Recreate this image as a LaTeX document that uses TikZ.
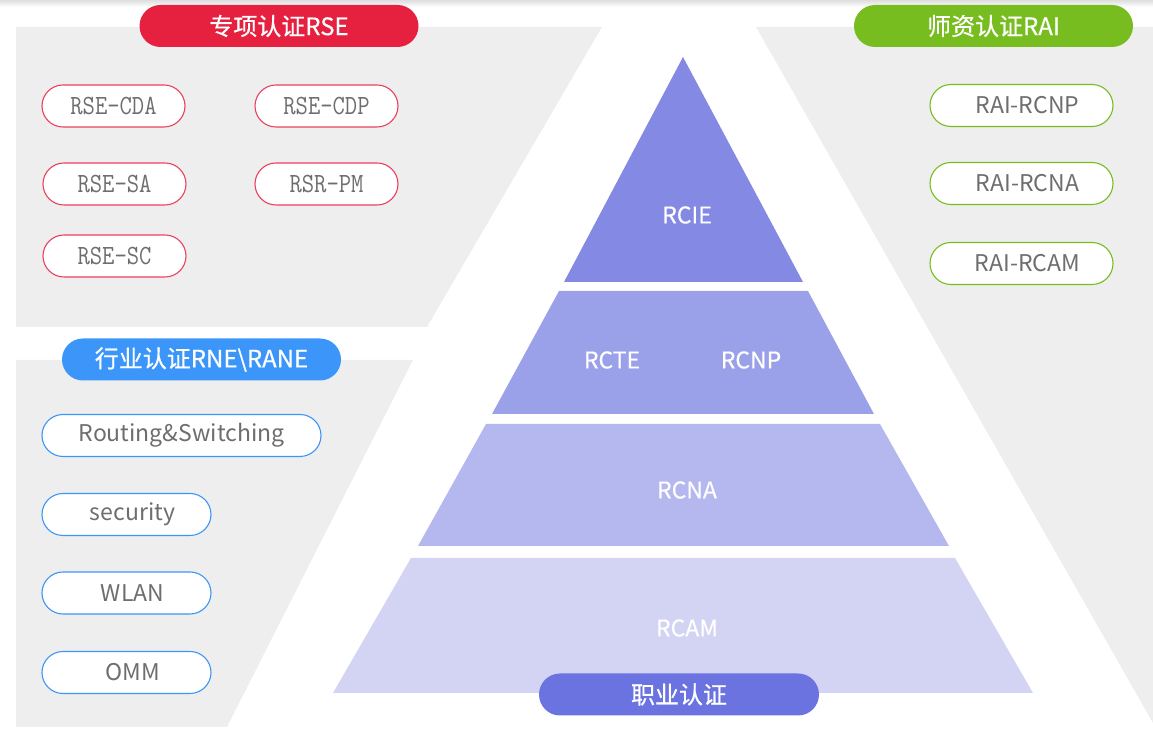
\documentclass[tikz,border=0pt]{standalone}
\usepackage{fontspec}
\usepackage{graphicx}
\newfontfamily\cjk{Noto Sans CJK SC}
\newfontfamily\cjkhead[FakeBold=0.5]{Noto Sans CJK SC}
\definecolor{bggray}{HTML}{EEEEEE}
\definecolor{rsered}{HTML}{E6203F}
\definecolor{raigreen}{HTML}{78BD1F}
\definecolor{raneblue}{HTML}{3C96FA}
\definecolor{pilltext}{HTML}{6E6E6E}
\definecolor{tierA}{HTML}{8489E3}
\definecolor{tierB}{HTML}{9AA1E8}
\definecolor{tierC}{HTML}{B4B8EE}
\definecolor{tierD}{HTML}{D3D3F3}
\definecolor{jobpurple}{HTML}{6B73E0}
\newcommand{\mono}[1]{\scalebox{0.86}[1]{\ttfamily\addfontfeatures{FakeBold=0.8}\fontsize{13.9pt}{15pt}\selectfont #1}}
\begin{document}
\begin{tikzpicture}[x=0.5pt,y=-0.5pt,
    header/.style={fill=#1, rounded corners=10.5pt, minimum width=139.5pt, minimum height=21pt,
      inner sep=0pt, text=white, font=\cjkhead\fontsize{12pt}{14pt}\selectfont},
    pill/.style={draw=#1, fill=white, line width=0.55pt, rounded corners=10.5pt, minimum height=21pt,
      inner sep=0pt, text=pilltext, font=\cjk\fontsize{11.5pt}{13pt}\selectfont},
    tier/.style={text=white, font=\cjkhead\fontsize{11.5pt}{13pt}\selectfont}]
  \useasboundingbox (0,0) rectangle (1153,747);
  % Background
  \shade[top color=black!13, bottom color=white] (0,0) rectangle (1153,7);
  \fill[bggray] (16,27) -- (602,27) -- (427,327) -- (16,327) -- cycle;
  \fill[bggray] (16,360) -- (413,360) -- (227,727) -- (16,727) -- cycle;
  \fill[bggray] (756,27) -- (1153,27) -- (1153,723) -- cycle;
  % Pyramid
  \fill[tierA] (683,57) -- (803,282) -- (564,282) -- cycle;
  \fill[tierB] (559,291) -- (808,291) -- (874,414) -- (492,414) -- cycle;
  \fill[tierC] (486,424) -- (880,424) -- (949,546) -- (418,546) -- cycle;
  \fill[tierD] (411,558) -- (955,558) -- (1033,693) -- (333,693) -- cycle;
  \node[tier] (rcie) at (687,215) {RCIE};
  \node[tier] (rcte) at (612,360) {RCTE};
  \node[tier] (rcnp) at (751,360) {RCNP};
  \node[tier] (rcna) at (687,490) {RCNA};
  \node[tier] (rcam) at (687,628) {RCAM};
  \node[header=jobpurple, minimum width=140pt] (job) at (679,694.5) {职业认证};
  % RSE
  \node[header=rsered] (rse) at (279,26) {专项认证RSE};
  \node[pill=rsered!85, minimum width=71.5pt] (cda) at (113.5,106) {\mono{RSE-CDA}};
  \node[pill=rsered!85, minimum width=71.5pt] (cdp) at (326.5,106) {\mono{RSE-CDP}};
  \node[pill=rsered!85, minimum width=71.5pt] (sa) at (114.5,184) {\mono{RSE-SA}};
  \node[pill=rsered!85, minimum width=71.5pt] (pm) at (326.5,184) {\mono{RSR-PM}};
  \node[pill=rsered!85, minimum width=71.5pt] (sc) at (114.5,256) {\mono{RSE-SC}};
  % RAI
  \node[header=raigreen] (rai) at (993.5,26) {师资认证RAI};
  \node[pill=raigreen, minimum width=91.5pt] (rcnp2) at (1021.5,105.5) {\hspace*{6pt}RAI-RCNP};
  \node[pill=raigreen, minimum width=91.5pt] (rcna2) at (1021.5,183.5) {\hspace*{6pt}RAI-RCNA};
  \node[pill=raigreen, minimum width=91.5pt] (rcam2) at (1021.5,263.5) {\hspace*{6pt}RAI-RCAM};
  % RNE / RANE
  \node[header=raneblue] (rane) at (201.5,359.5) {行业认证RNE\textbackslash RANE};
  \node[pill=raneblue, minimum width=139.5pt] (rs) at (181.5,435.5) {Routing\&Switching};
  \node[pill=raneblue, minimum width=84.5pt] (sec) at (126.5,514.5) {\hspace*{6pt}security};
  \node[pill=raneblue, minimum width=84.5pt] (wlan) at (126.5,593) {\hspace*{6pt}WLAN};
  \node[pill=raneblue, minimum width=84.5pt] (omm) at (126.5,672.5) {\hspace*{6pt}OMM};
\end{tikzpicture}
\end{document}
